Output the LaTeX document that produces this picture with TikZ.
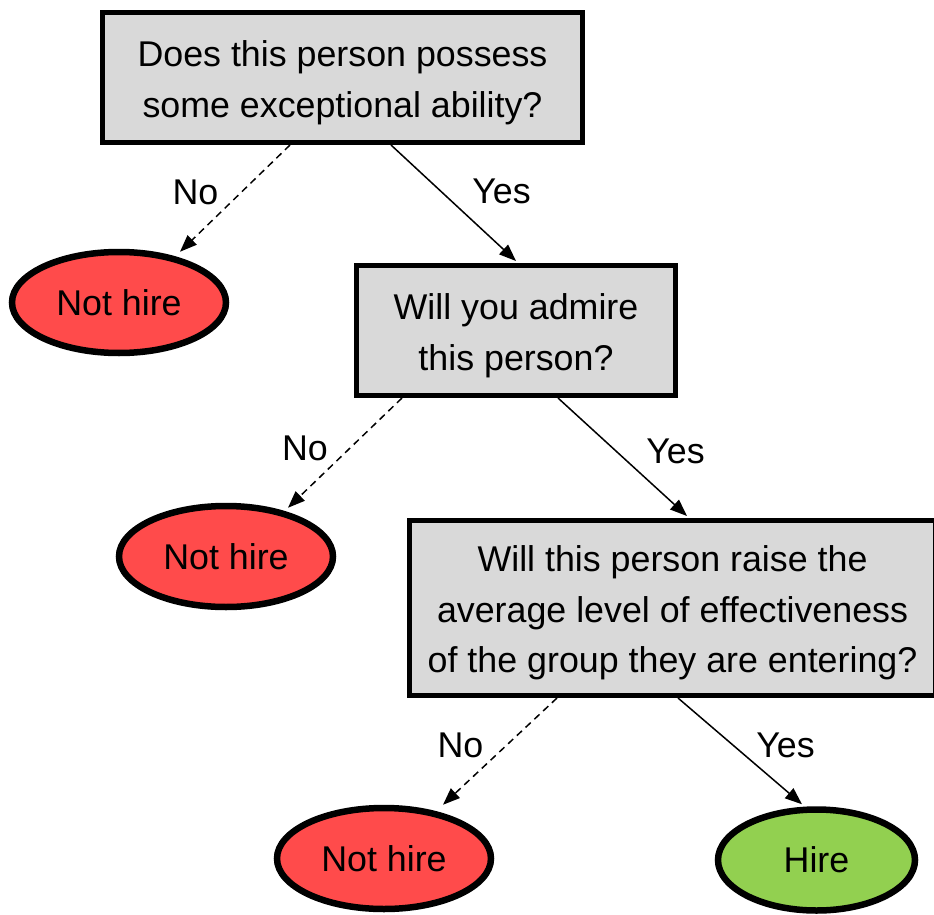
\documentclass[tikz,border=0pt]{standalone}
\usepackage{fontspec}
\setmainfont{Liberation Sans}
\usetikzlibrary{arrows.meta,shapes.geometric,calc}

\definecolor{boxgray}{HTML}{D9D9D9}
\definecolor{notred}{HTML}{FF4B4B}
\definecolor{hiregreen}{HTML}{92D050}

\begin{document}
\begin{tikzpicture}[x=1pt,y=-1pt,
  txt/.style={font=\fontsize{35.8}{50.5}\selectfont},
  question/.style={rectangle, draw=black, line width=5pt, fill=boxgray, inner sep=0pt},
  qtext/.style={txt, align=center, inner sep=0pt},
  outcome/.style={txt, ellipse, draw=black, line width=6.5pt, inner sep=0pt,
    minimum width=214pt, minimum height=101pt},
  branchlabel/.style={txt, inner sep=0pt},
  link/.style={line width=1.5pt, -{Triangle[length=17pt,width=13pt]}},
  nolink/.style={link, dash pattern=on 7pt off 5pt},
]
\useasboundingbox (0,0) rectangle (934,915);
\clip (0,0) rectangle (934,915);

% decision boxes and their questions
\node[question, minimum width=480pt, minimum height=130pt] (q1) at (342.5,77.5) {};
\node[qtext] (q1t) at ($(q1.center)+(0,5)$) {Does this person possess\\some exceptional ability?};
\node[question, minimum width=319pt, minimum height=130pt] (q2) at (516,330.5) {};
\node[qtext] (q2t) at ($(q2.center)+(0,5)$) {Will you admire\\this person?};
\node[question, minimum width=526pt, minimum height=175pt] (q3) at (672.5,608) {};
\node[qtext] (q3t) at ($(q3.center)+(0,5)$) {Will this person raise the\\average level of effectiveness\\of the group they are entering?};

% outcomes
\node[outcome, fill=notred] (n1) at (119,302.5) {Not hire};
\node[outcome, fill=notred] (n2) at (226,556.5) {Not hire};
\node[outcome, fill=notred] (n3) at (384,858.5) {Not hire};
\node[outcome, fill=hiregreen, minimum width=197pt] (hire) at (816.5,860) {Hire};

% connectors
\draw[nolink] ($(q1.south)+(-52.5,0)$) -- ($(n1.north)+(61,3)$);
\draw[link]   ($(q1.south)+(48.5,0)$)  -- ($(q2.north)+(0,-2)$);
\draw[nolink] ($(q2.south)+(-114,0)$)  -- ($(n2.north)+(62,5)$);
\draw[link]   ($(q2.south)+(42,0)$)    -- ($(q3.north)+(14.5,-2)$);
\draw[nolink] ($(q3.south)+(-115.5,0)$) -- ($(n3.north)+(59,0)$);
\draw[link]   ($(q3.south)+(5.5,0)$)   -- ($(hire.north)+(-14.5,-2)$);

% branch labels
\node[branchlabel] (l1) at (195.5,192) {No};
\node[branchlabel] (l2) at (501.5,191.5) {Yes};
\node[branchlabel] (l3) at (305,448.5) {No};
\node[branchlabel] (l4) at (675.5,451.5) {Yes};
\node[branchlabel] (l5) at (460.5,745) {No};
\node[branchlabel] (l6) at (785.5,745) {Yes};
\end{tikzpicture}
\end{document}
